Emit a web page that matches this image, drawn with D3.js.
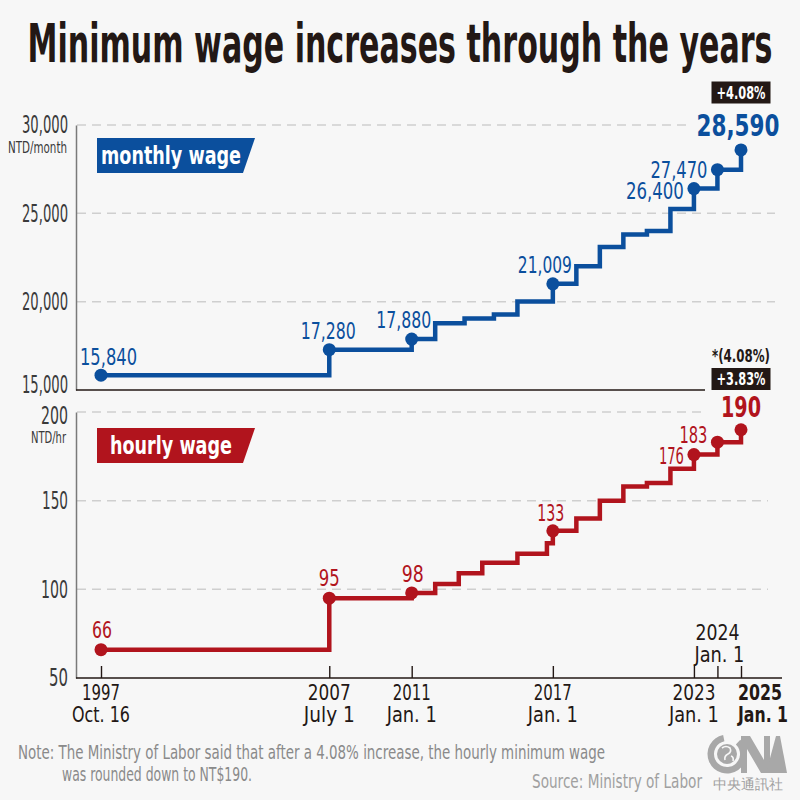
<!DOCTYPE html>
<html><head><meta charset="utf-8">
<script src="https://cdn.jsdelivr.net/npm/d3@7"></script>
<style>
html,body{margin:0;padding:0;background:#f7f7f7;}
svg{display:block;}
text{font-family:"Liberation Sans Narrow","DejaVu Sans Condensed","DejaVu Sans",sans-serif;font-stretch:condensed;}
</style></head>
<body><svg id="c" width="800" height="800"></svg>
<script>
// ---- data ----
const title = "Minimum wage increases through the years";
const monthlyDates = ["1997-10-16","2007-07-01","2011-01-01","2012-01-01","2013-04-01","2014-07-01","2015-07-01","2017-01-01","2018-01-01","2019-01-01","2020-01-01","2021-01-01","2022-01-01","2023-01-01","2024-01-01","2025-01-01"];
const monthlyValues = [15840,17280,17880,18780,19047,19273,20008,21009,22000,23100,23800,24000,25250,26400,27470,28590];
const hourlyDates = ["1997-10-16","2007-07-01","2011-01-01","2012-01-01","2013-01-01","2014-01-01","2015-07-01","2016-10-01","2017-01-01","2018-01-01","2019-01-01","2020-01-01","2021-01-01","2022-01-01","2023-01-01","2024-01-01","2025-01-01"];
const hourlyValues = [66,95,98,103,109,115,120,126,133,140,150,158,160,168,176,183,190];
const labeledDates = ["1997-10-16","2007-07-01","2011-01-01","2017-01-01","2023-01-01","2024-01-01","2025-01-01"];
const tickYears = ["1997","2007","2011","2017","2023","2024","2025"];
const tickDays = ["Oct. 16","July 1","Jan. 1","Jan. 1","Jan. 1","Jan. 1","Jan. 1"];
const monthlyTicks = [15000,20000,25000,30000];
const hourlyTicks = [50,100,150,200];
const monthlyUnit = "NTD/month";
const hourlyUnit = "NTD/hr";
const monthlyIncrease = "+4.08%";
const hourlyIncrease = "+3.83%";
const hourlyNote = "*(4.08%)";
const noteLines = ["Note: The Ministry of Labor said that after a 4.08% increase, the hourly minimum wage","was rounded down to NT$190."];
const source = "Source: Ministry of Labor";
const agency = "中央通訊社";

// ---- styles ----
const BLUE = "#0b4f9d", RED = "#b1141d", INK = "#231815", GRID = "#cfcfcf", AXISG = "#7a7a7a";
const parse = d3.timeParse("%Y-%m-%d");
const svg = d3.select("#c");
function fitW(sel, w) { return sel.attr("textLength", w).attr("lengthAdjust", "spacingAndGlyphs"); }

const x = d3.scaleTime().domain([parse("1997-10-16"), parse("2025-01-01")]).range([101, 741]);
const yM = d3.scaleLinear().domain([15000, 30000]).range([390, 125]);
const yH = d3.scaleLinear().domain([50, 200]).range([678, 412]);

// title
fitW(svg.append("text").attr("x", 400).attr("y", 62).attr("text-anchor", "middle")
  .attr("font-size", 53).attr("font-weight", 700).attr("fill", INK).text(title), 745);

// gridlines
function grid(vals, y, ends) {
  vals.forEach((v, i) => {
    if (ends[i] == null) return;
    svg.append("line").attr("x1", 77).attr("x2", ends[i]).attr("y1", y(v)).attr("y2", y(v))
      .attr("stroke", GRID).attr("stroke-width", 1.5).attr("stroke-dasharray", "9,6");
  });
}
grid(monthlyTicks, yM, [null, 775, 775, 690]);
grid(hourlyTicks, yH, [null, 768, 768, 705]);

// y axes
function yAxis(y, ticks, fmt, widths, shifts) {
  const g = svg.append("g").attr("transform", "translate(76,0)")
    .call(d3.axisLeft(y).tickValues(ticks).tickSize(0).tickPadding(8).tickFormat(fmt));
  g.select(".domain").attr("stroke", AXISG).attr("stroke-width", 1.5);
  g.selectAll("text").attr("font-size", 24).attr("fill", "#3a3a3a")
    .each(function(d, i) { fitW(d3.select(this), widths[i]).attr("y", shifts[i]); });
  return g;
}
yAxis(yM, monthlyTicks, d3.format(","), [46, 46, 46, 46], [-5, 0, 0, 0]);
yAxis(yH, hourlyTicks, d3.format("d"), [19, 27, 26, 27], [0, 0, 0, 4]);

fitW(svg.append("text").attr("x", 67).attr("y", 153).attr("text-anchor", "end").attr("font-size", 15)
  .attr("fill", "#3a3a3a").text(monthlyUnit), 59);
fitW(svg.append("text").attr("x", 66).attr("y", 443).attr("text-anchor", "end").attr("font-size", 15)
  .attr("fill", "#3a3a3a").text(hourlyUnit), 35);

// top panel baseline
svg.append("line").attr("x1", 76).attr("x2", 705).attr("y1", yM(15000)).attr("y2", yM(15000))
  .attr("stroke", INK).attr("stroke-width", 1.6);

// bottom x axis
const tickDates = labeledDates.map(parse);
const xa = svg.append("g").attr("transform", `translate(0,${yH(50)})`)
  .call(d3.axisTop(x).tickValues(tickDates).tickSize(12).tickFormat(""));
xa.select(".domain").remove();
xa.selectAll(".tick line").attr("stroke", INK).attr("stroke-width", 1.4);
svg.append("line").attr("x1", 76).attr("x2", 782).attr("y1", yH(50)).attr("y2", yH(50))
  .attr("stroke", INK).attr("stroke-width", 1.6);

const yearW = [38, 43, 38, 38, 43, 44, 44];
const dayW = [58, 51, 50, 50, 50, 50, 50];
tickDates.forEach((d, i) => {
  const above = tickYears[i] === "2024";
  const last = i === tickDates.length - 1;
  const y0 = above ? 640 : 700, y1 = above ? 662 : 722;
  const xx = last ? x(d) - 3 : x(d);
  const anc = last ? "start" : "middle";
  fitW(svg.append("text").attr("x", xx).attr("y", y0).attr("text-anchor", anc).attr("font-size", 22)
    .attr("fill", INK).attr("font-weight", last ? 700 : 400).text(tickYears[i]), yearW[i]);
  fitW(svg.append("text").attr("x", above ? x(d) + 2 : xx).attr("y", y1).attr("text-anchor", anc).attr("font-size", 22)
    .attr("fill", INK).attr("font-weight", last ? 700 : 400).text(tickDays[i]), dayW[i]);
});

// step lines
function series(dates, vals, y, color) {
  const pts = dates.map((d, i) => [x(parse(d)), y(vals[i])]);
  svg.append("path").attr("d", d3.line().curve(d3.curveStepAfter)(pts))
    .attr("fill", "none").attr("stroke", color).attr("stroke-width", 4.5).attr("stroke-linejoin", "miter");
  labeledDates.forEach(ld => {
    const i = dates.indexOf(ld);
    svg.append("circle").attr("cx", x(parse(ld))).attr("cy", y(vals[i])).attr("r", 6.5).attr("fill", color);
  });
}
series(monthlyDates, monthlyValues, yM, BLUE);
series(hourlyDates, hourlyValues, yH, RED);

// point labels (placement offsets and widths)
const mPlace = [[-21, -10, "start", 57], [-1, -11, "middle", 55], [-8, -11, "middle", 55], [-8, -11, "middle", 54], [-10, 10, "end", 58], [-10, 8, "end", 57], [-3, -14, "middle", 83]];
const hPlace = [[1, -12, "middle", 20], [0, -12, "middle", 21], [1, -11, "middle", 22], [-2, -10, "middle", 27], [-10, 9, "end", 25], [-10, 1, "end", 28], [0, -13, "middle", 40]];
function labels(dates, vals, y, color, place, fmt, bigSize) {
  labeledDates.forEach((ld, k) => {
    const i = dates.indexOf(ld);
    const last = k === labeledDates.length - 1;
    const [dx, dy, anc, w] = place[k];
    fitW(svg.append("text").attr("x", x(parse(ld)) + dx).attr("y", y(vals[i]) + dy)
      .attr("text-anchor", anc).attr("fill", color)
      .attr("font-size", last ? bigSize : 23).attr("font-weight", last ? 700 : 400)
      .text(fmt(vals[i])), w);
  });
}
labels(monthlyDates, monthlyValues, yM, BLUE, mPlace, d3.format(","), 30);
labels(hourlyDates, hourlyValues, yH, RED, hPlace, d3.format("d"), 28);

// black increase boxes
function badge(x0, y0, txt) {
  svg.append("rect").attr("x", x0).attr("y", y0).attr("width", 59).attr("height", 22).attr("fill", INK);
  fitW(svg.append("text").attr("x", x0 + 29.5).attr("y", y0 + 17).attr("text-anchor", "middle")
    .attr("font-size", 17).attr("font-weight", 700).attr("fill", "#fff").text(txt), 49);
}
badge(711.5, 81.5, monthlyIncrease);
badge(711.5, 368, hourlyIncrease);
fitW(svg.append("text").attr("x", 741).attr("y", 362).attr("text-anchor", "middle").attr("font-size", 18)
  .attr("font-weight", 700).attr("fill", INK).text(hourlyNote), 58);

// series tag boxes
function tag(y0, color, txt, tx, tw) {
  svg.append("path").attr("d", `M97,${y0}H255L243,${y0 + 35}H97Z`).attr("fill", color);
  fitW(svg.append("text").attr("x", tx).attr("y", y0 + 26).attr("font-size", 25).attr("font-weight", 700)
    .attr("fill", "#fff").text(txt), tw);
}
tag(138, BLUE, "monthly wage", 101, 140);
tag(428, RED, "hourly wage", 110, 122);

// note + source
fitW(svg.append("text").attr("x", 18).attr("y", 759).attr("font-size", 19).attr("fill", "#8a8a8a").text(noteLines[0]), 587);
fitW(svg.append("text").attr("x", 62).attr("y", 781).attr("font-size", 19).attr("fill", "#8a8a8a").text(noteLines[1]), 190);
fitW(svg.append("text").attr("x", 532).attr("y", 788).attr("font-size", 19)
  .attr("fill", "#a0a0a0").attr("font-family", "Lato, 'Open Sans', sans-serif").attr("font-weight", 300)
  .attr("font-stretch", "normal").text(source), 170);

// CNA logo (approximation)
const LG = "#a8a8a8";
const logo = svg.append("g");
logo.append("path").attr("d", d3.arc()({innerRadius: 13, outerRadius: 19.5, startAngle: 0.75, endAngle: 2 * Math.PI - 0.2}))
  .attr("transform", "translate(727,754)").attr("fill", LG);
logo.append("circle").attr("cx", 727).attr("cy", 754).attr("r", 10).attr("fill", LG);
logo.append("path").attr("d", "M722,748 q4,-3 8,0 q2,4 -2,6 q-4,2 -3,6 M731,756 q3,1 2,5").attr("fill", "none")
  .attr("stroke", "#f7f7f7").attr("stroke-width", 1.6);
logo.append("path").attr("d", "M741,736 H750 L764,760 V736 H770 V773 H761 L747,749 V773 H741 Z").attr("fill", LG);
logo.append("path").attr("d", "M766,773 L776,736 H780 L787,773 Z").attr("fill", LG);
fitW(svg.append("text").attr("x", 713).attr("y", 789).attr("font-size", 14)
  .attr("font-family", "'Noto Sans CJK TC', sans-serif").attr("font-stretch", "normal")
  .attr("fill", "#a0a0a0").text(agency), 70);
</script></body></html>
